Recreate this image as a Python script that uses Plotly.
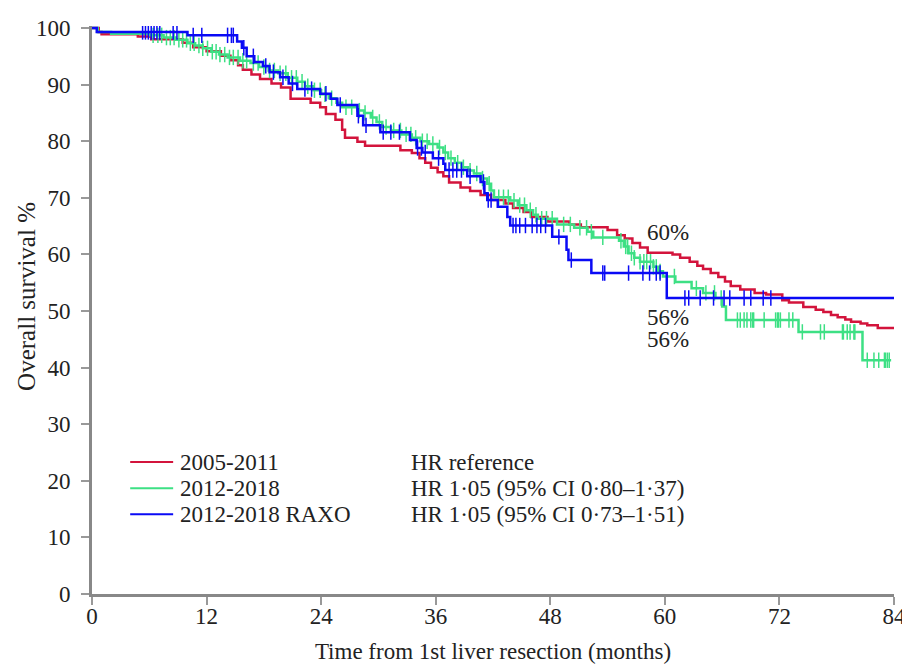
import numpy as np
import plotly.graph_objects as go

# ---------------- data ----------------
red_name = "2005-2011"
green_name = "2012-2018"
blue_name = "2012-2018 RAXO"

red_t = [0, 0.7, 1.0, 4.8, 6.2, 9.5, 10.6, 12.0, 13.5, 14.5, 15.3, 15.8, 16.7, 17.6, 18.8, 19.8,
         20.8, 22.9, 23.9, 24.5, 25.5, 26.2, 26.5, 27.8, 28.6, 32.3, 33.5, 34.3, 34.9, 35.5, 36.2,
         36.8, 37.4, 38.6, 39.6, 40.7, 41.8, 43.3, 44.1, 45.2, 46.0, 47.7, 50.0, 51.2, 54.0, 55.0,
         55.8, 56.6, 57.4, 58.2, 60.8, 61.6, 62.6, 63.4, 64.0, 64.8, 65.6, 66.3, 66.9, 67.9, 69.4,
         70.6, 72.3, 73.0, 74.5, 75.8, 76.6, 77.4, 78.1, 78.9, 79.5, 80.5, 81.2, 82.3, 84.0]
red_s = [100, 99.3, 98.9, 98.5, 98.0, 97.4, 96.6, 95.9, 95.1, 94.3, 93.4, 92.6, 91.8, 91.0, 90.2, 89.5,
         87.5, 86.8, 86.0, 84.8, 83.8, 82.0, 80.6, 79.9, 79.2, 78.4, 77.9, 77.0, 76.2, 75.3, 74.5,
         73.8, 72.7, 71.8, 71.2, 70.5, 69.6, 69.0, 68.2, 67.5, 66.6, 65.8, 65.3, 64.8, 64.3, 63.4,
         62.8, 62.0, 61.2, 60.3, 60.0, 59.4, 58.7, 58.0, 57.4, 56.7, 56.0, 55.2, 54.4, 53.8, 53.2,
         52.9, 51.9, 51.5, 50.7, 50.2, 49.8, 49.3, 48.9, 48.5, 48.1, 47.8, 47.5, 47.0, 47.0]

green_t = [0, 0.6, 2.0, 6.0, 7.5, 8.8, 10.0, 10.8, 11.6, 12.5, 13.3, 14.2, 15.5, 16.6, 17.5, 18.5,
           19.5, 20.5, 21.5, 22.3, 23.2, 24.0, 24.8, 25.6, 26.2, 27.8, 28.5, 29.2, 29.8, 30.4, 31.3,
           32.4, 33.5, 34.4, 35.3, 36.2, 36.8, 37.3, 38.0, 38.7, 39.4, 40.0, 40.7, 41.4, 41.8, 42.1,
           43.8, 44.6, 45.5, 46.2, 46.7, 48.7, 50.5, 51.9, 52.5, 55.2, 55.7, 56.2, 56.8, 57.4, 58.8,
           59.3, 59.8, 61.1, 62.8, 64.0, 65.3, 66.0, 66.4, 74.0, 80.7, 83.7]
green_s = [100, 99.3, 99.0, 98.7, 98.3, 97.9, 97.3, 96.9, 96.4, 95.8, 95.3, 94.8, 94.2, 93.8, 93.1, 92.5,
           92.0, 91.2, 90.5, 89.7, 89.0, 88.3, 87.6, 86.8, 86.0, 85.4, 85.0, 84.2, 83.4, 82.5, 81.9,
           81.2, 80.6, 80.0, 79.5, 78.9, 78.0, 77.0, 76.2, 75.4, 74.8, 74.3, 73.4, 72.5, 71.3, 70.1,
           69.5, 68.7, 67.8, 67.0, 66.3, 65.3, 64.7, 64.0, 63.0, 62.4, 61.4, 60.2, 59.4, 58.7, 57.8,
           57.0, 56.1, 55.1, 54.0, 53.2, 52.3, 50.8, 48.4, 46.3, 41.3, 41.3]

blue_t = [0, 0.5, 10.0, 15.2, 15.7, 16.2, 17.0, 17.9, 18.6, 19.7, 20.6, 21.5, 23.9, 25.0, 25.7, 27.8,
          28.4, 30.2, 33.3, 34.0, 34.6, 35.7, 36.8, 37.0, 39.3, 40.7, 41.1, 41.4, 42.5, 43.5, 43.8,
          48.2, 49.7, 49.9, 52.3, 60.2, 84.0]
blue_s = [100, 99.3, 98.7, 97.6, 96.5, 95.0, 94.0, 93.3, 92.2, 91.3, 90.2, 89.2, 88.4, 87.5, 86.4, 84.5,
          82.8, 81.6, 80.2, 78.8, 78.0, 77.0, 76.0, 74.9, 73.8, 72.8, 70.8, 69.6, 68.4, 66.6, 65.1,
          63.1, 60.8, 59.0, 56.7, 52.3, 52.3]

green_censor = [6.4, 6.9, 7.3, 7.8, 8.2, 8.6, 9.1, 9.5, 9.9, 10.3, 10.7, 11.2, 11.6, 12.1, 12.6, 13.0,
                13.4, 13.9, 14.4, 14.8, 15.3, 15.8, 16.2, 16.9, 17.4, 18.0, 18.6, 19.1, 19.7, 20.3,
                20.9, 21.4, 22.0, 22.6, 23.3, 23.9, 24.4, 25.1, 26.6, 27.2, 28.0, 28.6, 29.4, 30.1,
                30.8, 31.6, 32.3, 32.9, 33.4, 33.9, 34.6, 35.1, 35.7, 36.4, 37.0, 37.6, 38.3, 38.9,
                39.6, 40.3, 40.9, 41.6, 42.6, 43.1, 43.6, 44.2, 44.8, 45.3, 45.9, 46.5, 47.1, 47.6,
                48.2, 49.4, 50.1, 51.1, 51.8, 52.3, 53.5, 55.4, 55.9, 56.1, 56.5, 56.8, 57.4, 57.8,
                58.1, 58.5, 58.8, 59.1, 59.5, 61.0, 63.3, 64.3, 65.2, 65.9, 67.6, 67.9, 68.3, 68.6,
                69.0, 69.2, 69.3, 70.4, 71.6, 71.8, 71.9, 72.1, 73.0, 73.4, 74.4, 76.3, 76.7, 78.6,
                78.7, 79.1, 79.4, 79.8, 79.9, 81.2, 81.9, 82.4, 83.0, 83.1, 83.3, 83.5]
blue_censor = [5.3, 5.6, 5.9, 6.2, 6.5, 6.8, 7.1, 8.5, 8.9, 10.6, 11.5, 14.2, 14.6, 14.8, 15.9, 16.9,
               18.2, 19.0, 20.0, 21.0, 22.3, 23.0, 24.5, 26.0, 27.9, 28.7, 30.5, 31.3, 32.2, 34.1,
               34.5, 34.9, 36.3, 37.4, 37.8, 38.2, 38.7, 39.6, 41.0, 41.5, 41.8, 44.1, 44.4, 44.8,
               45.4, 46.1, 46.6, 47.0, 47.5, 48.9, 50.2, 53.5, 53.7, 56.2, 57.7, 58.4, 59.1, 59.5,
               62.1, 62.5, 63.7, 65.1, 66.2, 66.8, 68.3, 69.0, 70.3, 71.1]

hr_texts = ["HR reference", "HR 1·05 (95% CI 0·80–1·37)", "HR 1·05 (95% CI 0·73–1·51)"]
end_labels = ["60%", "56%", "56%"]
end_label_x = [60.3, 60.3, 60.3]
end_label_y = [63.8, 48.9, 45.0]

x_ticks = [0, 12, 24, 36, 48, 60, 72, 84]
y_ticks = [0, 10, 20, 30, 40, 50, 60, 70, 80, 90, 100]

x_title = "Time from 1st liver resection (months)"
y_title = "Overall survival %"

RED = "#D3143C"
GREEN = "#3DE084"
BLUE = "#0A0AF5"
FONT = "Liberation Serif, Times New Roman, serif"
TXT = "#222"
FS = 23


def step_value(t_arr, s_arr, times):
    t_arr = np.asarray(t_arr)
    s_arr = np.asarray(s_arr)
    idx = np.searchsorted(t_arr, np.asarray(times), side="right") - 1
    return s_arr[np.clip(idx, 0, len(s_arr) - 1)]


fig = go.Figure()

series = [
    (red_name, red_t, red_s, RED, []),
    (green_name, green_t, green_s, GREEN, green_censor),
    (blue_name, blue_t, blue_s, BLUE, blue_censor),
]
for name, t, s, col, cens in series:
    fig.add_trace(go.Scatter(x=t, y=s, mode="lines", name=name, legendgroup=name,
                             showlegend=False,
                             line=dict(color=col, width=2.5, shape="hv")))
    if cens:
        fig.add_trace(go.Scatter(x=cens, y=step_value(t, s, cens), mode="markers",
                                 legendgroup=name, showlegend=False, hoverinfo="skip",
                                 marker=dict(symbol="line-ns-open", size=11, color=col,
                                             line=dict(color=col, width=1.5))))

# survival labels at 60 months
for i, txt in enumerate(end_labels):
    fig.add_annotation(x=end_label_x[i], y=end_label_y[i], xref="x", yref="y", text=txt,
                       showarrow=False, font=dict(family=FONT, size=FS, color=TXT))

# legend (line samples + names) and hazard ratios
leg_y = [23.3, 18.7, 14.1]
for i, (name, t, s, col, cens) in enumerate(series):
    fig.add_shape(type="line", xref="x", yref="y", x0=4.0, x1=8.5, y0=leg_y[i], y1=leg_y[i],
                  line=dict(color=col, width=2))
    fig.add_annotation(x=9.0, y=leg_y[i], xref="x", yref="y", text=name, xanchor="left",
                       showarrow=False, font=dict(family=FONT, size=FS, color=TXT))
    fig.add_annotation(x=33.2, y=leg_y[i], xref="x", yref="y", text=hr_texts[i], xanchor="left",
                       showarrow=False, font=dict(family=FONT, size=FS, color=TXT))

# y-axis title
fig.add_annotation(x=-0.081, y=52.5, xref="paper", yref="y", text=y_title, textangle=-90,
                   xanchor="center", yanchor="middle",
                   showarrow=False, font=dict(family=FONT, size=25, color=TXT))

fig.update_layout(
    width=902, height=656,
    margin=dict(l=84, r=16, t=18, b=70),
    paper_bgcolor="white", plot_bgcolor="white",
    font=dict(family=FONT, size=FS, color=TXT),
    showlegend=False,
    xaxis=dict(range=[0, 84], tickvals=x_ticks, ticks="outside", ticklen=8, tickcolor="#999",
               tickwidth=1.5, showline=True, linecolor="#888", linewidth=3, showgrid=False,
               zeroline=False, ticklabelstandoff=-9,
               title=dict(text=x_title, standoff=30, font=dict(size=FS)),
               automargin=False, tickfont=dict(size=FS)),
    yaxis=dict(range=[0, 100.35], tickvals=y_ticks, ticks="outside", ticklen=8, tickcolor="#999",
               tickwidth=1.5, showline=True, linecolor="#888", linewidth=3, showgrid=False,
               zeroline=False, ticklabelstandoff=6,
               automargin=False, tickfont=dict(size=FS)),
)

fig.write_html("out.html")
